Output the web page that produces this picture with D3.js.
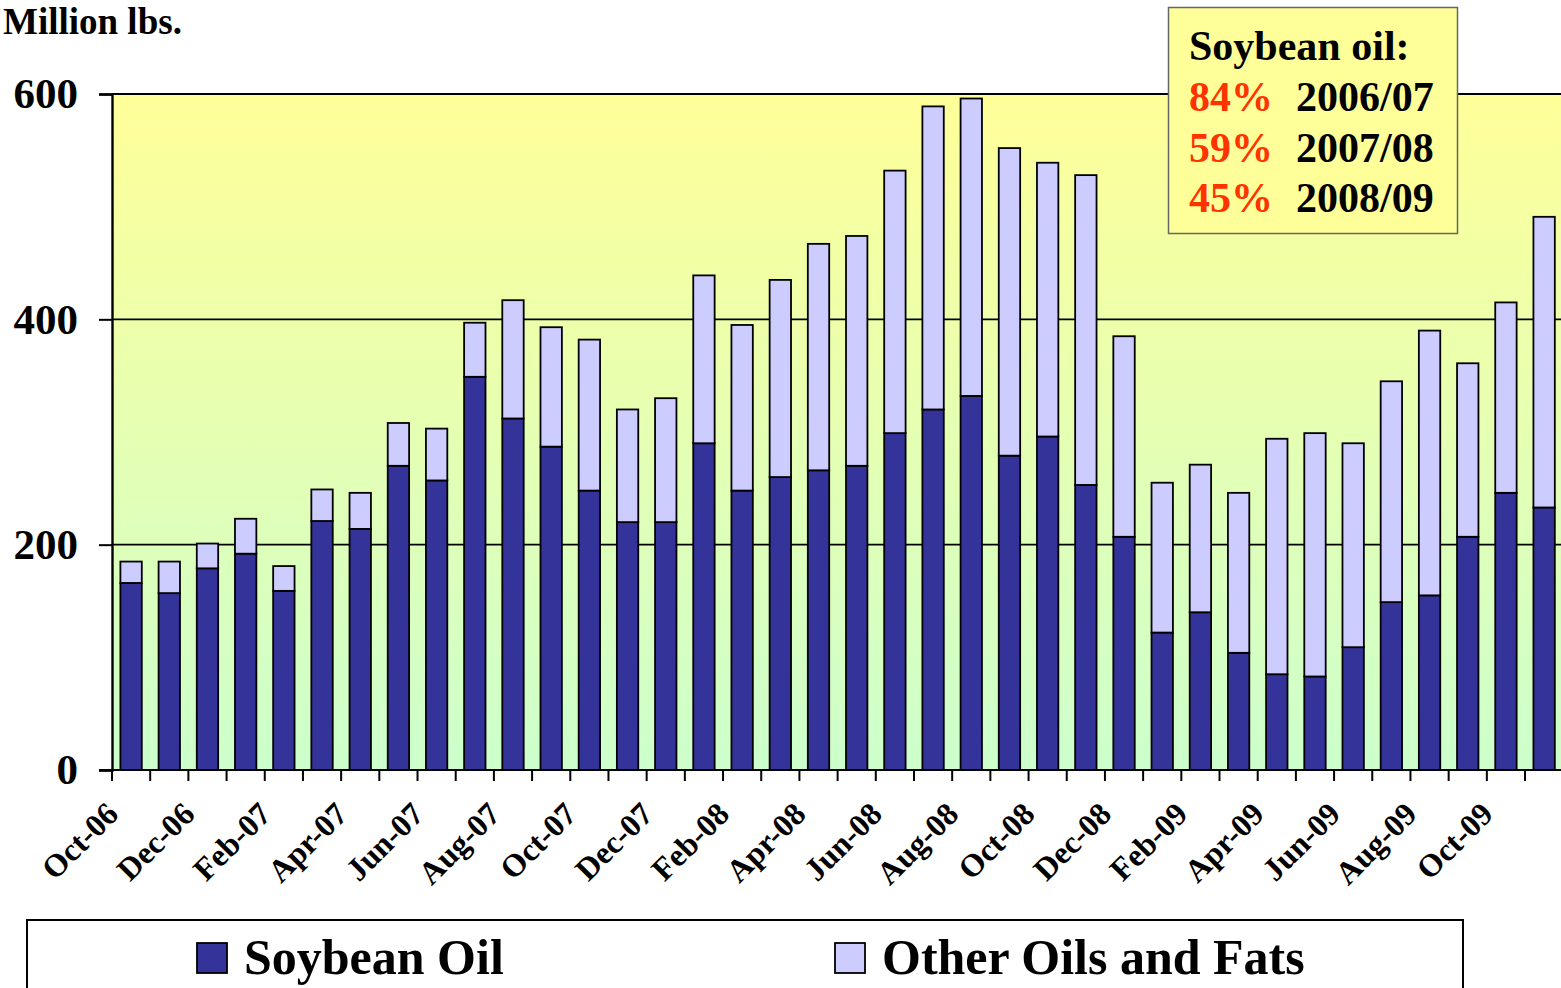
<!DOCTYPE html>
<html>
<head>
<meta charset="utf-8">
<script src="https://cdn.jsdelivr.net/npm/d3@7"></script>
<style>
  html, body { margin: 0; padding: 0; background: #ffffff; overflow: hidden; }
  svg { display: block; }
  text { font-family: "Liberation Serif", "Times New Roman", serif; font-weight: bold; }
</style>
</head>
<body>
<svg id="chart" width="1561" height="988"></svg>
<script>
const months = ["Oct-06","Nov-06","Dec-06","Jan-07","Feb-07","Mar-07","Apr-07","May-07","Jun-07","Jul-07","Aug-07","Sep-07",
  "Oct-07","Nov-07","Dec-07","Jan-08","Feb-08","Mar-08","Apr-08","May-08","Jun-08","Jul-08","Aug-08","Sep-08",
  "Oct-08","Nov-08","Dec-08","Jan-09","Feb-09","Mar-09","Apr-09","May-09","Jun-09","Jul-09","Aug-09","Sep-09",
  "Oct-09","Nov-09"];
const soybeanOil = [166,157,179,192,159,221,214,270,257,349,312,287,
  248,220,220,290,248,260,266,270,299,320,332,279,
  296,253,207,122,140,104,85,83,109,149,155,207,
  246,233];
const otherOils = [19,28,22,31,22,28,32,38,46,48,105,106,
  134,100,110,149,147,175,201,204,233,269,264,273,
  243,275,178,133,131,142,209,216,181,196,235,154,
  169,258];
const yTicks = [0,200,400,600];
const seriesNames = ["Soybean Oil","Other Oils and Fats"];
const seriesColors = ["#333399","#CCCCFF"];
const shareLabels = ["84%","59%","45%"];
const shareYears = ["2006/07","2007/08","2008/09"];

const svg = d3.select("#chart");
const plotLeft = 112, plotTop = 94, plotBottom = 770;
const step = 38.19;
const plotRight = plotLeft + step * months.length;

const x = d3.scaleBand().domain(months).range([plotLeft, plotRight]).paddingInner(0.44).paddingOuter(0.22);
const y = d3.scaleLinear().domain([0, 600]).range([plotBottom, plotTop]);

// gradient background
const defs = svg.append("defs");
const grad = defs.append("linearGradient").attr("id","bg").attr("x1",0).attr("y1",0).attr("x2",0).attr("y2",1);
grad.append("stop").attr("offset","0%").attr("stop-color","#FFFF99");
grad.append("stop").attr("offset","100%").attr("stop-color","#CCFFCC");
svg.append("rect").attr("x",plotLeft).attr("y",plotTop).attr("width",plotRight-plotLeft).attr("height",plotBottom-plotTop).attr("fill","url(#bg)");

// gridlines
svg.append("g").selectAll("line").data(yTicks.filter(d=>d>0)).join("line")
  .attr("x1",plotLeft).attr("x2",1561).attr("y1",d=>y(d)).attr("y2",d=>y(d))
  .attr("stroke","#000").attr("stroke-width",d=>d===600?2.2:1.6);

// stacked bars
const data = months.map((m,i)=>({month:m, soy:soybeanOil[i], other:otherOils[i]}));
const stack = d3.stack().keys(["soy","other"]);
const layers = stack(data);
svg.append("g").selectAll("g").data(layers).join("g")
  .attr("fill",(d,i)=>seriesColors[i])
  .selectAll("rect").data(d=>d).join("rect")
  .attr("x",d=>x(d.data.month))
  .attr("width",x.bandwidth())
  .attr("y",d=>y(d[1]))
  .attr("height",d=>y(d[0])-y(d[1]))
  .attr("stroke","#000").attr("stroke-width",1.8);

// y axis
const yAxis = svg.append("g").attr("transform",`translate(${plotLeft},0)`)
  .call(d3.axisLeft(y).tickValues(yTicks).tickSize(13).tickPadding(21).tickFormat(d3.format("d")));
yAxis.select(".domain").attr("stroke","#000").attr("stroke-width",2.4);
yAxis.selectAll(".tick line").attr("stroke","#000").attr("stroke-width",2);
yAxis.selectAll(".tick text").attr("font-size",43).attr("fill","#000")
  .attr("font-family","Liberation Serif, Times New Roman, serif").attr("font-weight","bold");

// x axis line
svg.append("line").attr("x1",plotLeft-13).attr("x2",1561).attr("y1",plotBottom).attr("y2",plotBottom)
  .attr("stroke","#000").attr("stroke-width",2.2);
// x ticks at band boundaries
const bounds = months.map(m=>x(m) - (x.step()-x.bandwidth())/2).concat([plotRight]);
svg.append("g").selectAll("line").data(bounds).join("line")
  .attr("x1",d=>d).attr("x2",d=>d).attr("y1",plotBottom).attr("y2",plotBottom+11)
  .attr("stroke","#000").attr("stroke-width",2);
// x labels
svg.append("g").selectAll("text").data(months.filter((d,i)=>i%2===0)).join("text")
  .attr("transform",d=>`translate(${x(d)+x.bandwidth()/2-11},816) rotate(-45)`)
  .attr("text-anchor","end").attr("font-size",32).attr("fill","#000")
  .text(d=>d);

// title
svg.append("text").attr("x",3).attr("y",34).attr("font-size",37).attr("fill","#000").text("Million lbs.");

// annotation box
svg.append("rect").attr("x",1168.5).attr("y",7.5).attr("width",289).attr("height",226)
  .attr("fill","#FFFF99").attr("stroke","#666").attr("stroke-width",1.5);
svg.append("text").attr("x",1189).attr("y",60).attr("font-size",42).attr("fill","#000").text("Soybean oil:");
svg.append("g").selectAll("text").data(shareLabels).join("text")
  .attr("x",1189).attr("y",(d,i)=>111+i*50.7).attr("font-size",42).attr("fill","#FF3300").text(d=>d);
svg.append("g").selectAll("text").data(shareYears).join("text")
  .attr("x",1296).attr("y",(d,i)=>111+i*50.7).attr("font-size",42).attr("fill","#000").text(d=>d);

// legend
svg.append("rect").attr("x",27).attr("y",920).attr("width",1436).attr("height",100)
  .attr("fill","#fff").attr("stroke","#000").attr("stroke-width",2);
const legX = [197, 835];
const lg = svg.append("g").selectAll("g").data(seriesNames).join("g")
  .attr("transform",(d,i)=>`translate(${legX[i]},943)`);
lg.append("rect").attr("width",30).attr("height",30).attr("fill",(d,i)=>seriesColors[i])
  .attr("stroke","#000").attr("stroke-width",1.8);
lg.append("text").attr("x",47).attr("y",31).attr("font-size",50).attr("fill","#000").text(d=>d);
</script>
</body>
</html>
